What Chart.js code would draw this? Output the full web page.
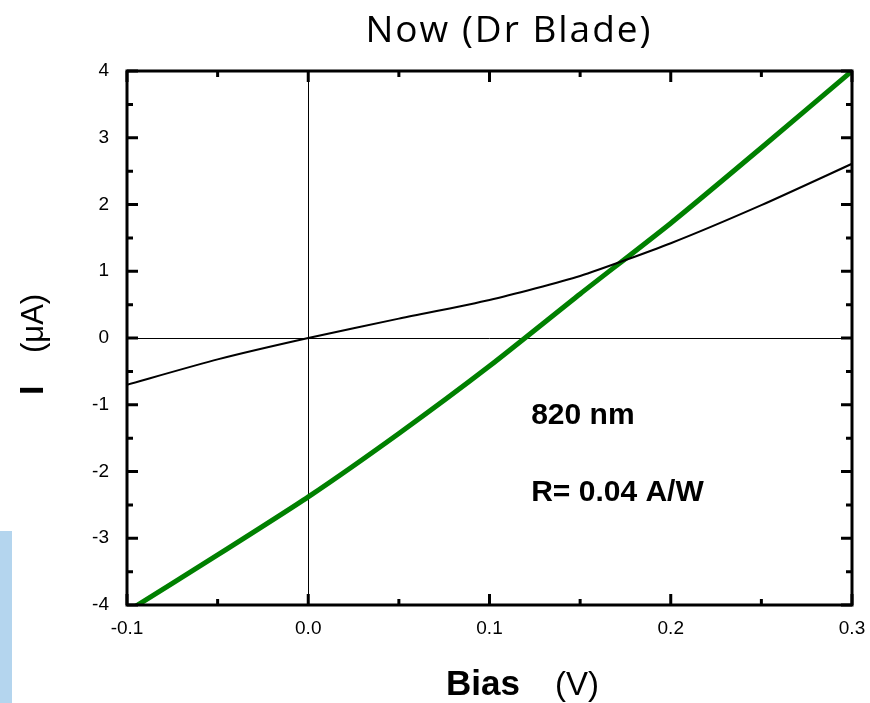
<!DOCTYPE html>
<html>
<head>
<meta charset="utf-8">
<title>Now (Dr Blade)</title>
<script src="https://cdn.jsdelivr.net/npm/chart.js@4.4.0/dist/chart.umd.min.js"></script>
<style>
    body { margin: 0; background: #fff; }
    #wrap { position: relative; width: 870px; height: 703px; }
    #sideBar { position: absolute; left: 0; top: 531px; width: 12px; height: 172px; background: #b4d5ee; }
</style>
</head>
<body>
<div id="wrap">
    <div id="sideBar"></div>
    <canvas id="ivChart" width="870" height="703"></canvas>
</div>
<script>
// data
const bias = [-0.1, -0.05, 0, 0.05, 0.1, 0.15, 0.2, 0.25, 0.3];
const darkCurrent = [-0.70, -0.32, 0, 0.29, 0.57, 0.93, 1.42, 1.99, 2.61];
const lightCurrent = [-4.1, -3.25, -2.38, -1.43, -0.42, 0.66, 1.72, 2.85, 4.0];
const xTickLabels = ['-0.1', '0.0', '0.1', '0.2', '0.3'];
const yTickLabels = ['-4', '-3', '-2', '-1', '0', '1', '2', '3', '4'];

const chartTitle = 'Now (Dr Blade)';
const notes = [
    { text: '820 nm', x: 0.123, y: -1.29 },
    { text: 'R= 0.04 A/W', x: 0.123, y: -2.44 }
];

const toPoints = (ys) => bias.map((b, i) => ({ x: b, y: ys[i] }));
const isMajor = (v, step) => Math.abs(v / step - Math.round(v / step)) < 1e-6;
const FONT = '"Liberation Sans", Arial, sans-serif';

// frame, inward ticks, axis titles and notes
const framePlugin = {
    id: 'frame',
    afterDraw(chart) {
        const { ctx, chartArea: a, scales } = chart;
        ctx.save();
        ctx.strokeStyle = '#000';
        ctx.lineWidth = 3;
        ctx.lineCap = 'butt';
        ctx.strokeRect(a.left, a.top, a.right - a.left, a.bottom - a.top);

        ctx.beginPath();
        scales.x.ticks.forEach(t => {
            const px = scales.x.getPixelForValue(t.value);
            const len = isMajor(t.value, 0.1) ? 11 : 6;
            ctx.moveTo(px, a.bottom); ctx.lineTo(px, a.bottom - len);
            ctx.moveTo(px, a.top); ctx.lineTo(px, a.top + len);
        });
        scales.y.ticks.forEach(t => {
            const py = scales.y.getPixelForValue(t.value);
            const len = isMajor(t.value, 1) ? 11 : 6;
            ctx.moveTo(a.left, py); ctx.lineTo(a.left + len, py);
            ctx.moveTo(a.right, py); ctx.lineTo(a.right - len, py);
        });
        ctx.stroke();

        // title
        ctx.fillStyle = '#000';
        ctx.textBaseline = 'alphabetic';
        ctx.textAlign = 'center';
        ctx.font = '37px "Open Sans", "Noto Sans", sans-serif';
        ctx.letterSpacing = '2px';
        ctx.fillText(chartTitle, 509, 42);
        ctx.letterSpacing = '0px';

        // x axis title
        ctx.textAlign = 'left';
        ctx.font = 'bold 35px ' + FONT;
        ctx.fillText('Bias', 446, 695);
        ctx.font = '33px ' + FONT;
        ctx.fillText('(V)', 555, 695);

        // y axis title
        ctx.save();
        ctx.translate(43, 0);
        ctx.rotate(-Math.PI / 2);
        ctx.font = 'bold 34px ' + FONT;
        ctx.fillText('I', -395, 0);
        ctx.font = '31px ' + FONT;
        ctx.fillText('(\u03bcA)', -353, 0);
        ctx.restore();

        // notes
        ctx.font = 'bold 30px ' + FONT;
        notes.forEach(n => {
            ctx.fillText(n.text, scales.x.getPixelForValue(n.x), scales.y.getPixelForValue(n.y));
        });
        ctx.restore();
    }
};

new Chart(document.getElementById('ivChart'), {
    type: 'line',
    data: {
        datasets: [
            {
                label: 'dark',
                data: toPoints(darkCurrent),
                borderColor: '#000',
                borderWidth: 2,
                pointRadius: 0,
                tension: 0.2,
                clip: 0
            },
            {
                label: '820 nm',
                data: toPoints(lightCurrent),
                borderColor: '#008000',
                borderWidth: 5,
                pointRadius: 0,
                tension: 0.2,
                clip: 0
            }
        ]
    },
    options: {
        responsive: false,
        animation: false,
        layout: { padding: { left: 0, top: 71, right: 18, bottom: 58 } },
        plugins: { legend: { display: false }, tooltip: { enabled: false } },
        scales: {
            x: {
                type: 'linear',
                min: -0.1,
                max: 0.3,
                afterFit: (s) => { s.height = 40; s.paddingLeft = 0; s.paddingRight = 0; },
                border: { display: false },
                grid: {
                    drawTicks: false,
                    lineWidth: 1,
                    color: (c) => (c.tick && Math.abs(c.tick.value) < 1e-9) ? '#000' : 'rgba(0,0,0,0)'
                },
                ticks: {
                    stepSize: 0.05,
                    padding: 12,
                    color: '#000',
                    font: { family: FONT, size: 19 },
                    maxRotation: 0,
                    autoSkip: false,
                    callback: (v) => isMajor(v, 0.1) ? xTickLabels[Math.round((v + 0.1) * 10)] : ''
                }
            },
            y: {
                min: -4,
                max: 4,
                afterFit: (s) => { s.width = 127; s.paddingTop = 0; s.paddingBottom = 0; },
                border: { display: false },
                grid: {
                    drawTicks: false,
                    lineWidth: 1,
                    color: (c) => (c.tick && Math.abs(c.tick.value) < 1e-9) ? '#000' : 'rgba(0,0,0,0)'
                },
                ticks: {
                    stepSize: 0.5,
                    padding: 18,
                    color: '#000',
                    font: { family: FONT, size: 19 },
                    autoSkip: false,
                    callback: (v) => isMajor(v, 1) ? yTickLabels[Math.round(v) + 4] : ''
                }
            }
        }
    },
    plugins: [framePlugin]
});
</script>
</body>
</html>
